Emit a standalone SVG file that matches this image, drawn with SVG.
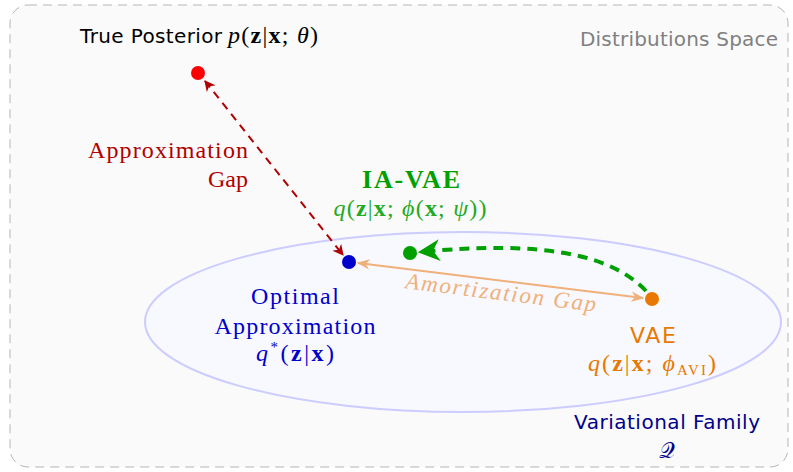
<svg xmlns="http://www.w3.org/2000/svg" width="793" height="472" viewBox="0 0 793 472">
<style>
.sans{font-family:"DejaVu Sans","Liberation Sans",sans-serif}
.serif{font-family:"Liberation Serif","DejaVu Serif",serif}
.it{font-style:italic}
.b{font-weight:bold;font-style:normal}
.up{font-style:normal}
</style>
<defs>
<marker id="hRed" viewBox="0 0 10 10" refX="9" refY="5" markerWidth="11" markerHeight="11" markerUnits="userSpaceOnUse" orient="auto-start-reverse">
<path d="M0,0 L10,5 L0,10 L3,5 Z" fill="#b00000"/>
</marker>
<marker id="hOr" viewBox="0 0 10 10" refX="9" refY="5" markerWidth="13" markerHeight="13" markerUnits="userSpaceOnUse" orient="auto-start-reverse">
<path d="M0,1 L10,5 L0,9 L3,5 Z" fill="#f0b07a"/>
</marker>
<marker id="hGr" viewBox="0 0 10 10" refX="9" refY="5" markerWidth="22" markerHeight="22" markerUnits="userSpaceOnUse" orient="auto">
<path d="M0,0 L10,5 L0,10 L3,5 Z" fill="#00a000"/>
</marker>
</defs>
<rect id="space" x="10" y="5" width="778" height="462" rx="18" fill="#fafafa" stroke="#b5b5b5" stroke-width="1" stroke-dasharray="9,6"/>
<g id="family">
<ellipse cx="463" cy="322" rx="318" ry="90" fill="#f8f8ff" stroke="#ccccff" stroke-width="2"/>
<text class="sans" x="667" y="429" font-size="20" fill="#00008b" text-anchor="middle" textLength="186" lengthAdjust="spacing">Variational Family</text>
<text class="serif" x="667" y="458" font-size="22" fill="#00008b" text-anchor="middle">𝒬</text>
</g>
<text id="space-label" class="sans" x="778" y="46" font-size="20" fill="#808080" text-anchor="end" textLength="198" lengthAdjust="spacing">Distributions Space</text>
<g id="connectors">
<line x1="205" y1="81" x2="343" y2="255" stroke="#b00000" stroke-width="2" stroke-dasharray="8,6" marker-start="url(#hRed)" marker-end="url(#hRed)"/>
<line x1="358" y1="263" x2="643" y2="298" stroke="#f0b07a" stroke-width="2" marker-start="url(#hOr)" marker-end="url(#hOr)"/>
<path d="M646,291 C612,255 545,240 420,252" fill="none" stroke="#00a000" stroke-width="4" stroke-dasharray="10,7" marker-end="url(#hGr)"/>
<text class="serif it" x="0" y="0" font-size="23" fill="#f0b07a" text-anchor="middle" transform="translate(500,300) rotate(7)" textLength="192" lengthAdjust="spacing">Amortization Gap</text>
<text class="serif" x="248" y="158" font-size="24" fill="#b00000" text-anchor="end" textLength="160" lengthAdjust="spacing">Approximation</text>
<text class="serif" x="248" y="187" font-size="24" fill="#b00000" text-anchor="end">Gap</text>
</g>
<g id="true-posterior">
<circle cx="198" cy="73" r="7" fill="#ff0000"/>
<text class="sans" x="80" y="43" font-size="20" fill="#000" textLength="142" lengthAdjust="spacing">True Posterior</text>
<text class="serif it" x="228" y="43" font-size="24" fill="#000" textLength="90" lengthAdjust="spacing">p<tspan class="up">(</tspan><tspan class="b">z</tspan><tspan class="up">|</tspan><tspan class="b">x</tspan><tspan class="up">; </tspan>θ<tspan class="up">)</tspan></text>
</g>
<g id="optimal">
<circle cx="349" cy="262" r="7" fill="#0000cc"/>
<text class="serif" x="295" y="304" font-size="24" fill="#0000cc" text-anchor="middle" textLength="88" lengthAdjust="spacing">Optimal</text>
<text class="serif" x="295" y="334" font-size="24" fill="#0000cc" text-anchor="middle" textLength="161" lengthAdjust="spacing">Approximation</text>
<text class="serif" x="295" y="361" font-size="24" fill="#0000cc" text-anchor="middle" textLength="78" lengthAdjust="spacing"><tspan class="it">q</tspan><tspan font-size="15" dy="-9">*</tspan><tspan dy="9">(</tspan><tspan class="b">z</tspan>|<tspan class="b">x</tspan>)</text>
</g>
<g id="ia-vae">
<circle cx="410" cy="253" r="7" fill="#00a000"/>
<text class="serif" x="411" y="188" font-size="26" font-weight="bold" fill="#00a000" text-anchor="middle" textLength="98" lengthAdjust="spacing">IA-VAE</text>
<text class="serif" x="410" y="216" font-size="24" fill="#22aa22" text-anchor="middle" textLength="153" lengthAdjust="spacing"><tspan class="it">q</tspan>(<tspan class="b">z</tspan>|<tspan class="b">x</tspan>; <tspan class="it">ϕ</tspan>(<tspan class="b">x</tspan>; <tspan class="it">ψ</tspan>))</text>
</g>
<g id="vae">
<circle cx="652" cy="299" r="7" fill="#e87800"/>
<text class="sans" x="653" y="343" font-size="22" fill="#e87800" text-anchor="middle" textLength="46" lengthAdjust="spacing">VAE</text>
<text class="serif" x="652" y="371" font-size="24" fill="#e87800" text-anchor="middle" textLength="128" lengthAdjust="spacing"><tspan class="it">q</tspan>(<tspan class="b">z</tspan>|<tspan class="b">x</tspan>; <tspan class="it">ϕ</tspan><tspan font-size="15" dy="4">AVI</tspan><tspan dy="-4">)</tspan></text>
</g>
</svg>
